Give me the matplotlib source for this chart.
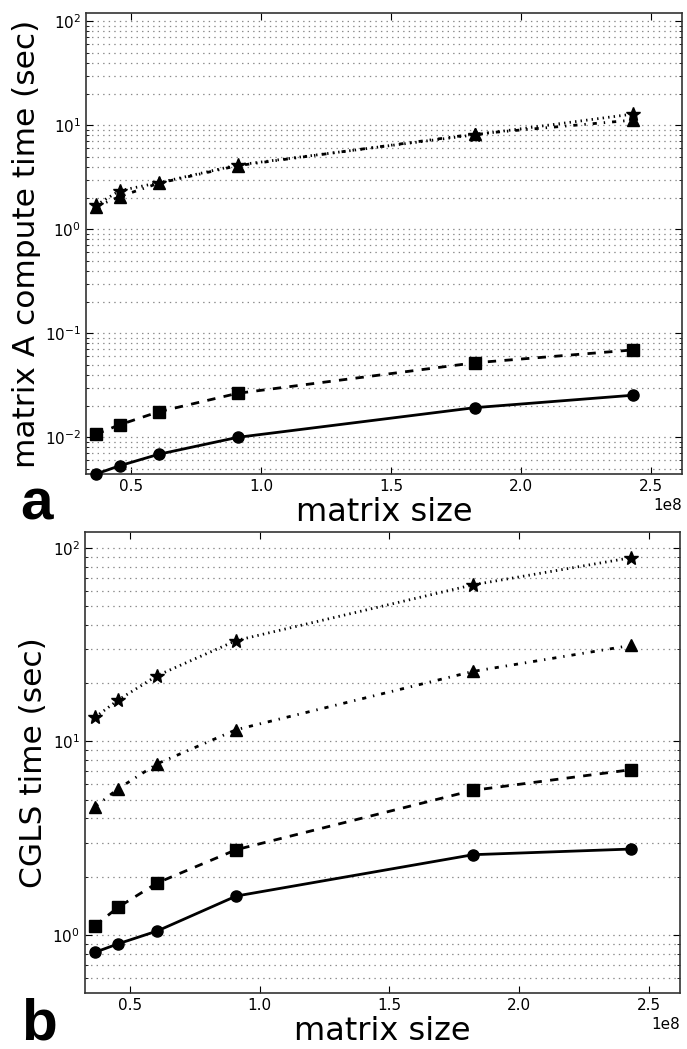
import numpy as np
from matplotlib import pyplot as plt
from matplotlib.ticker import LogLocator

# patrones de linea al estilo clasico
plt.rcParams["lines.scale_dashes"] = False
plt.rcParams["lines.dashed_pattern"] = [6, 6]
plt.rcParams["lines.dashdot_pattern"] = [3, 5, 1, 5]
plt.rcParams["lines.dotted_pattern"] = [1, 3]

# tamaños de matriz (x) y tiempos medidos
matrix_size = [0.365e8, 0.456e8, 0.606e8, 0.91e8, 1.823e8, 2.43e8]

# panel a: tiempo de computo de la matriz A
a_circle = [0.00444, 0.00533, 0.00687, 0.0100, 0.0193, 0.0254]
a_square = [0.0107, 0.0132, 0.0176, 0.0265, 0.0521, 0.0692]
a_triangle = [1.65, 2.06, 2.77, 4.09, 8.24, 11.2]
a_star = [1.70, 2.35, 2.80, 4.15, 8.1, 12.8]

# panel b: tiempo CGLS
b_circle = [0.814, 0.902, 1.05, 1.59, 2.60, 2.78]
b_square = [1.117, 1.395, 1.86, 2.76, 5.59, 7.14]
b_triangle = [4.59, 5.71, 7.67, 11.5, 23.0, 31.3]
b_star = [13.3, 16.4, 21.9, 33.2, 64.4, 88.8]

estilos = [("o", "-"), ("s", "--"), ("^", "-."), ("*", ":")]


def panel(ax, series, ylabel, ylim):
    for (marker, ls), ys in zip(estilos, series):
        ms = 10 if marker == "*" else 8
        ax.plot(matrix_size, ys, color="black", linestyle=ls, linewidth=2,
                marker=marker, markersize=ms, clip_on=False, zorder=3)
    ax.set_yscale("log")
    ax.set_xlim(0.327e8, 2.62e8)
    ax.set_ylim(*ylim)
    ax.yaxis.set_major_locator(LogLocator(base=10))
    ax.yaxis.set_minor_locator(LogLocator(base=10, subs=np.arange(2, 10)))
    ax.grid(axis="y", which="both", linestyle=":", color="#888888", linewidth=0.9)
    ax.set_xticks([0.5e8, 1.0e8, 1.5e8, 2.0e8, 2.5e8])
    ax.tick_params(which="both", direction="in", top=True, right=True, labelsize=11)
    ax.tick_params(which="major", length=5)
    ax.tick_params(which="minor", length=2.5)
    ax.xaxis.get_offset_text().set_fontsize(11)
    for s in ax.spines.values():
        s.set_color("#333333")
        s.set_linewidth(1.2)
    ax.set_xlabel("matrix size", fontsize=23, labelpad=2)
    ax.set_ylabel(ylabel, fontsize=22.5, labelpad=3)


fig = plt.figure(figsize=(6.87, 10.49), dpi=100)
ax1 = fig.add_axes([0.1252, 0.5481, 0.8675, 0.4395])
ax2 = fig.add_axes([0.1237, 0.0534, 0.866, 0.439])

panel(ax1, [a_circle, a_square, a_triangle, a_star],
      "matrix A compute time (sec)", (0.00444, 120))
panel(ax2, [b_circle, b_square, b_triangle, b_star],
      "CGLS time (sec)", (0.502, 120))

fig.text(0.03, 1 - 520 / 1049, "a", fontsize=42, fontweight="bold",
         family="Liberation Sans", va="baseline")
fig.text(0.03, 1 - 1039 / 1049, "b", fontsize=42, fontweight="bold",
         family="Liberation Sans", va="baseline")

plt.savefig("out.png", dpi=100)
